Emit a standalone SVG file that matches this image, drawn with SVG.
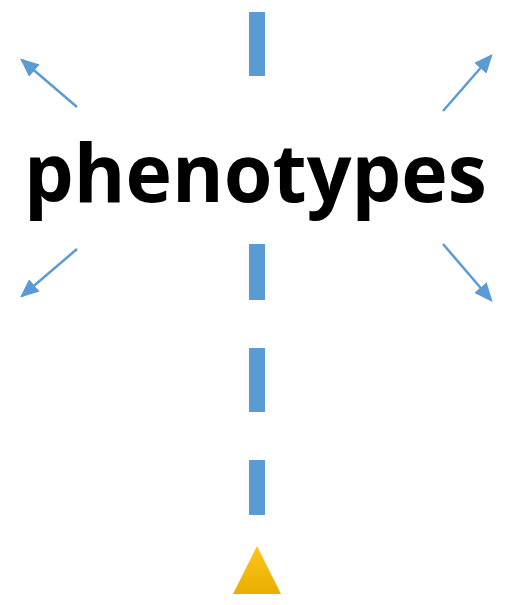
<svg xmlns="http://www.w3.org/2000/svg" width="513" height="605" viewBox="0 0 513 605">
<style>
.dash{fill:#5B9BD5}
.arr{stroke:#5B9BD5;stroke-width:2.5;fill:none;marker-end:url(#ah)}
.lbl{font-family:"Open Sans","Liberation Sans",sans-serif;font-weight:bold;font-size:81px;fill:#000}
</style>
<defs>
<marker id="ah" markerWidth="7.5" markerHeight="6.5" refX="6.5" refY="3.25" orient="auto" markerUnits="strokeWidth">
<path d="M0,0 L7.5,3.25 L0,6.5 Z" fill="#5B9BD5"/>
</marker>
<linearGradient id="gold" x1="0" y1="0" x2="0" y2="1">
<stop offset="0" stop-color="#FFC61A"/>
<stop offset="1" stop-color="#E8AE00"/>
</linearGradient>
</defs>
<g id="connectors">
<rect class="dash" x="249" y="12" width="16" height="64"/>
<rect class="dash" x="249" y="244" width="16" height="56"/>
<rect class="dash" x="249" y="348" width="16" height="64"/>
<rect class="dash" x="249" y="460" width="16" height="55"/>
<line class="arr" x1="77" y1="107" x2="22" y2="60"/>
<line class="arr" x1="443" y1="111" x2="491" y2="56"/>
<line class="arr" x1="77" y1="249" x2="22" y2="296"/>
<line class="arr" x1="443" y1="244" x2="491" y2="300"/>
</g>
<g id="label">
<text class="lbl" x="24" y="202" textLength="463" lengthAdjust="spacingAndGlyphs">phenotypes</text>
</g>
<g id="triangle">
<polygon points="257,546 281,594 233,594" fill="url(#gold)"/>
</g>
</svg>
